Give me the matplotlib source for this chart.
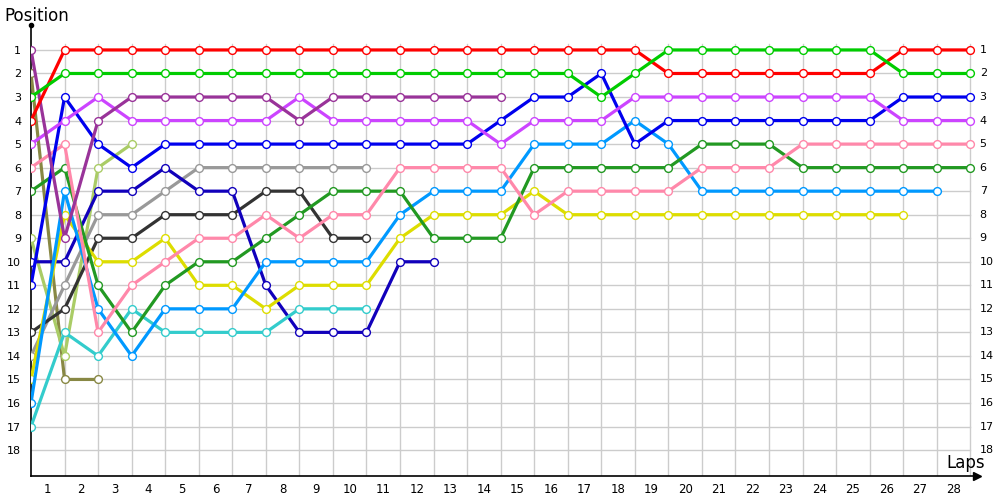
import matplotlib
matplotlib.use("Agg")
import matplotlib.pyplot as plt

laps = list(range(0, 29))

drivers = ["red", "green", "purple", "magenta", "blue", "pink", "dkgreen",
           "ltblue", "yellow", "cyan", "navy", "dkgray", "ltgray", "ltolive", "olive"]

colors = {
    "red": "#ff0000", "green": "#00cc00", "purple": "#993399", "magenta": "#cc44ff",
    "blue": "#0000ee", "pink": "#ff88aa", "dkgreen": "#229922", "ltblue": "#0099ff",
    "yellow": "#dddd00", "cyan": "#33cccc", "navy": "#1100bb", "dkgray": "#333333",
    "ltgray": "#999999", "ltolive": "#aacc66", "olive": "#888844",
}

# positions by lap, starting at lap 0
red = [4] + [1]*18 + [2]*7 + [1]*3
green = [3] + [2]*16 + [3, 2] + [1]*7 + [2]*3
purple = [1, 9, 4, 3, 3, 3, 3, 3, 4, 3, 3, 3, 3, 3, 3]
magenta = [5, 4, 3, 4, 4, 4, 4, 4, 3, 4, 4, 4, 4, 4, 5, 4, 4, 4] + [3]*8 + [4]*3
blue = [11, 3, 5, 6, 5, 5, 5, 5, 5, 5, 5, 5, 5, 5, 4, 3, 3, 2, 5] + [4]*7 + [3]*3
pink = [6, 5, 13, 11, 10, 9, 9, 8, 9, 8, 8, 6, 6, 6, 6, 8, 7, 7, 7, 7, 6, 6, 6] + [5]*6
dkgreen = [7, 6, 11, 13, 11, 10, 10, 9, 8, 7, 7, 7, 9, 9, 9, 6, 6, 6, 6, 6, 5, 5, 5] + [6]*6
ltblue = [16, 7, 12, 14, 12, 12, 12, 10, 10, 10, 10, 8, 7, 7, 7, 5, 5, 5, 4, 5] + [7]*8
yellow = [15, 8, 10, 10, 9, 11, 11, 12, 11, 11, 11, 9, 8, 8, 8, 7] + [8]*11
cyan = [17, 13, 14, 12, 13, 13, 13, 13, 12, 12, 12]
navy = [10, 10, 7, 7, 6, 7, 7, 11, 13, 13, 13, 10, 10]
dkgray = [13, 12, 9, 9, 8, 8, 8, 7, 7, 9, 9]
ltgray = [14, 11, 8, 8, 7, 6, 6, 6, 6, 6, 6]
ltolive = [9, 14, 6, 5]
olive = [2, 15, 15]

series = {
    "red": red, "green": green, "purple": purple, "magenta": magenta, "blue": blue,
    "pink": pink, "dkgreen": dkgreen, "ltblue": ltblue, "yellow": yellow, "cyan": cyan,
    "navy": navy, "dkgray": dkgray, "ltgray": ltgray, "ltolive": ltolive, "olive": olive,
}

positions = list(range(1, 19))

fig = plt.figure(figsize=(10, 5), dpi=100)
ax = fig.add_axes([0.031, 0.0486, 0.946, 0.9014])
ax.set_xlim(0, 28.2)
ax.set_ylim(19.09, -0.06)

# grid
for p in positions:
    ax.plot([0, 28], [p, p], color="#cccccc", lw=1, zorder=1)
for l in laps[1:]:
    ax.plot([l, l], [0.75, 19.09], color="#cccccc", lw=1, zorder=1)

# draw lines, back to front
order = ["olive", "ltolive", "ltgray", "dkgray", "navy", "cyan", "yellow", "ltblue",
         "dkgreen", "pink", "blue", "magenta", "purple", "red", "green"]
z = 3
for d in order:
    vals = series[d]
    x = laps[:len(vals)]
    ax.plot(x, vals, color=colors[d], lw=2.3, zorder=z, solid_capstyle="round")
    ax.plot(x, vals, linestyle="none", marker="o", ms=5.6, mfc="white",
            mec=colors[d], mew=1.0, zorder=z + 0.5)
    z += 1

# axes
for s in ["top", "right"]:
    ax.spines[s].set_visible(False)
ax.spines["left"].set_linewidth(1.2)
ax.spines["bottom"].set_linewidth(1.2)
ax.plot([0], [-0.06], marker="o", ms=3, color="black", clip_on=False, zorder=30)
ax.plot([28.2], [19.09], marker=">", ms=6, color="black", clip_on=False, zorder=30)

ax.set_yticks(positions)
ax.set_yticklabels([str(p) for p in positions], fontsize=8)
ax.tick_params(axis="y", length=0, pad=7)
ax.set_xticks([l - 0.5 for l in laps[1:]])
ax.set_xticklabels([str(l) for l in laps[1:]], fontsize=8.5)
ax.tick_params(axis="x", length=0, pad=5)

for p in positions:
    ax.text(28.28, p, str(p), fontsize=8, va="center", ha="left")

fig.text(0.004, 0.968, "Position", fontsize=12, ha="left", va="center")
ax.text(27.3, 18.55, "Laps", fontsize=12, ha="left", va="center")

fig.savefig("out.png", dpi=100, facecolor="white")
